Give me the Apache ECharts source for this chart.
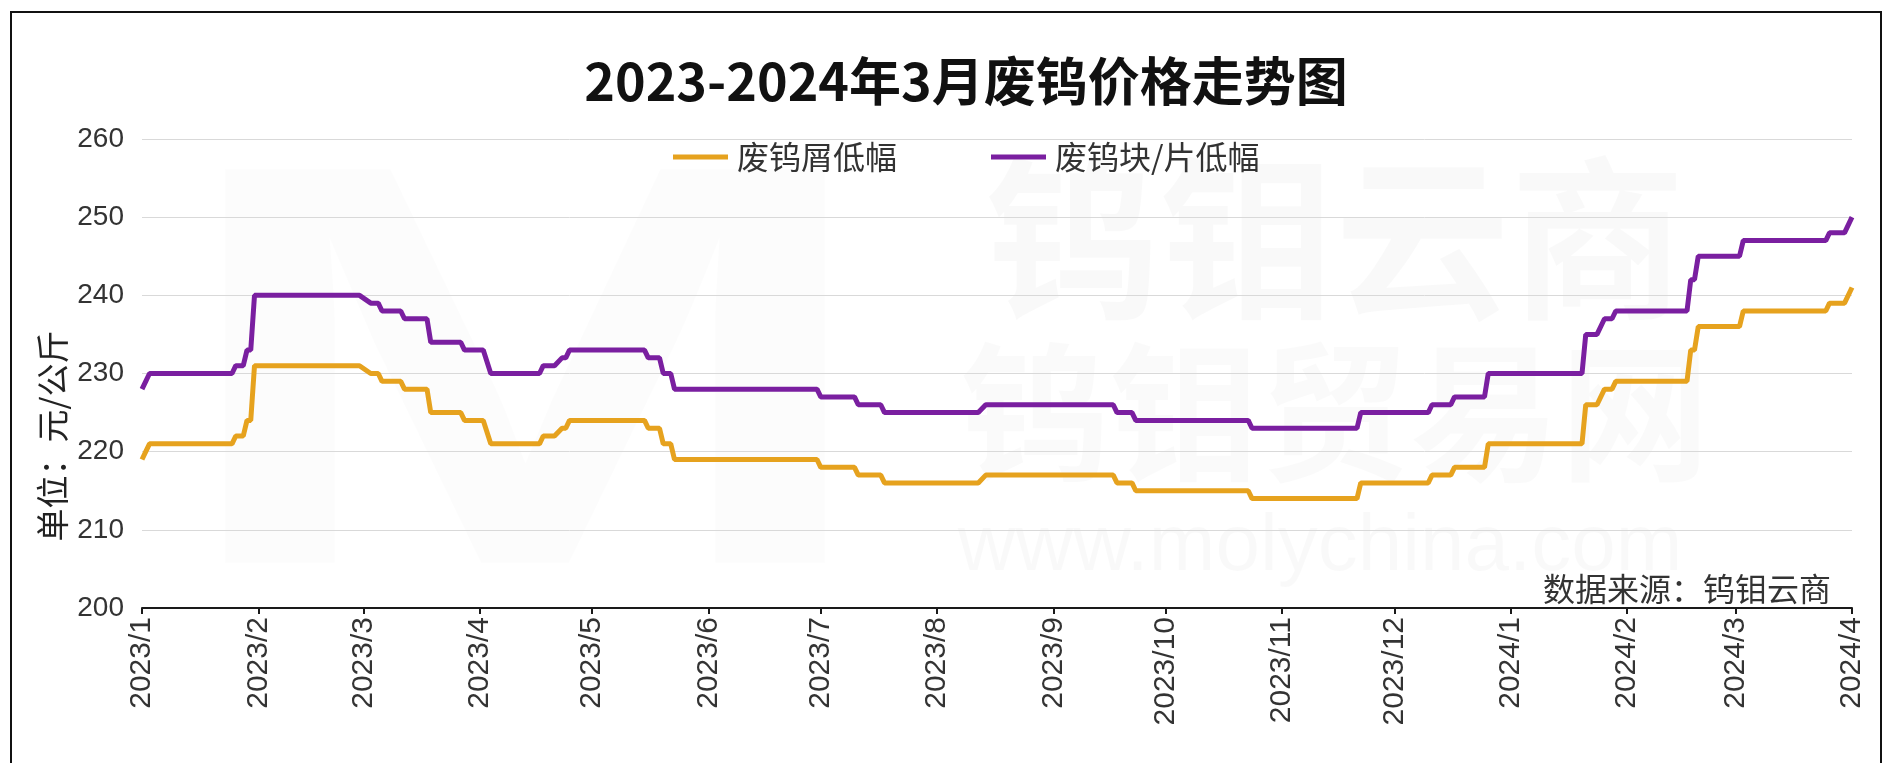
<!DOCTYPE html>
<html>
<head>
<meta charset="utf-8">
<script src="https://cdn.jsdelivr.net/npm/echarts@6/dist/echarts.min.js"></script>
<style>
html,body{margin:0;padding:0;background:#ffffff;}
#chart{width:1891px;height:763px;}
</style>
</head>
<body>
<div id="chart"></div>
<script>
// ---- data ----
const titleText = '2023-2024年3月废钨价格走势图';
const seriesNames = ['废钨屑低幅', '废钨块/片低幅'];
const unitText = '单位：元/公斤';
const sourceText = '数据来源：钨钼云商';

// change points of the price steps
const dates = [
  '2023-01-01','2023-01-02','2023-01-03','2023-01-25','2023-01-26','2023-01-28','2023-01-29','2023-01-30',
  '2023-01-31','2023-02-28','2023-03-03','2023-03-05','2023-03-06','2023-03-11','2023-03-12','2023-03-18',
  '2023-03-19','2023-03-27','2023-03-28','2023-04-02','2023-04-04','2023-04-17','2023-04-18','2023-04-21',
  '2023-04-23','2023-04-24','2023-04-25','2023-05-15','2023-05-16','2023-05-19','2023-05-20','2023-05-22',
  '2023-05-23','2023-06-30','2023-07-01','2023-07-10','2023-07-11','2023-07-17','2023-07-18','2023-08-12',
  '2023-08-14','2023-09-17','2023-09-18','2023-09-22','2023-09-23','2023-10-23','2023-10-24','2023-11-21',
  '2023-11-22','2023-12-10','2023-12-11','2023-12-16','2023-12-17','2023-12-25','2023-12-26','2024-01-20',
  '2024-01-21','2024-01-24','2024-01-26','2024-01-28','2024-01-29','2024-02-17','2024-02-18','2024-02-19',
  '2024-02-20','2024-03-02','2024-03-03','2024-03-25','2024-03-26','2024-03-30','2024-04-01'
];
// 废钨屑低幅
const scrapLow = [
  219,220,221,221,222,222,224,224,
  231,231,230,230,229,229,228,228,
  225,225,224,224,221,221,222,222,
  223,223,224,224,223,223,221,221,
  219,219,218,218,217,217,216,216,
  217,217,216,216,215,215,214,214,
  216,216,217,217,218,218,221,221,
  226,226,228,228,229,229,233,233,
  236,236,238,238,239,239,241
];
// 废钨块/片低幅
const blockLow = [
  228,229,230,230,231,231,233,233,
  240,240,239,239,238,238,237,237,
  234,234,233,233,230,230,231,231,
  232,232,233,233,232,232,230,230,
  228,228,227,227,226,226,225,225,
  226,226,225,225,224,224,223,223,
  225,225,226,226,227,227,230,230,
  235,235,237,237,238,238,242,242,
  245,245,247,247,248,248,250
];
const xMin = '2023-01-01';
const xMax = '2024-04-01';
const yMin = 200, yMax = 260, yStep = 10;

// ---- chart ----
const CJK = '"Noto Sans CJK SC", "Noto Sans", sans-serif';
const LAT = '"Liberation Sans", Arial, sans-serif';
const colors = ['#E6A21E', '#7A1FA0'];

const chart = echarts.init(document.getElementById('chart'), null, {renderer: 'canvas'});
const pair = (vals) => dates.map((d, i) => [d, vals[i]]);

chart.setOption({
  backgroundColor: '#ffffff',
  animation: false,
  color: colors,
  grid: {left: 142, right: 39, top: 139, bottom: 155, containLabel: false},
  legend: {
    left: 668, top: 136,
    icon: 'rect', itemWidth: 55, itemHeight: 5, itemGap: 94,
    textStyle: {fontFamily: CJK, fontSize: 32, color: '#333', padding: [0, 0, 0, 4]},
    data: seriesNames
  },
  xAxis: {
    type: 'time',
    min: xMin, max: xMax,
    splitNumber: 15,
    minInterval: 28 * 86400000,
    maxInterval: 31 * 86400000,
    axisLine: {show: true, lineStyle: {color: '#1a1a1a', width: 2}},
    axisTick: {show: true, length: 6, lineStyle: {color: '#1a1a1a', width: 2}},
    splitLine: {show: false},
    axisLabel: {
      rotate: 90, margin: 9, fontFamily: LAT, fontSize: 30, color: '#333',
      showMinLabel: true, showMaxLabel: true, hideOverlap: false,
      formatter: function (v) { const d = new Date(v); return d.getFullYear() + '/' + (d.getMonth() + 1); }
    }
  },
  yAxis: {
    type: 'value', min: yMin, max: yMax, interval: yStep,
    axisLine: {show: false}, axisTick: {show: false},
    splitLine: {show: true, lineStyle: {color: '#d9d9d9', width: 1}},
    axisLabel: {fontFamily: LAT, fontSize: 28, color: '#333', margin: 18}
  },
  series: [
    {name: seriesNames[0], type: 'line', data: pair(scrapLow), showSymbol: false, symbol: 'none',
     lineStyle: {width: 5, color: colors[0]}, z: 3},
    {name: seriesNames[1], type: 'line', data: pair(blockLow), showSymbol: false, symbol: 'none',
     lineStyle: {width: 5, color: colors[1]}, z: 3}
  ],
  graphic: [
    {type: 'rect', z: 0, silent: true,
     shape: {x: 11, y: 12, width: 1870, height: 800},
     style: {fill: 'none', stroke: '#111', lineWidth: 2}},
    // faint watermark
    {type: 'text', z: 0, silent: true, x: 525, y: 405, scaleX: 1.65, scaleY: 1.1,
     style: {text: 'M', font: 'bold 520px ' + LAT, fill: 'rgba(0,0,0,0.013)', textAlign: 'center', textVerticalAlign: 'middle'}},
    {type: 'text', z: 0, silent: true, x: 1335, y: 238,
     style: {text: '钨钼云商', font: 'bold 175px ' + CJK, fill: 'rgba(0,0,0,0.022)', textAlign: 'center', textVerticalAlign: 'middle'}},
    {type: 'text', z: 0, silent: true, x: 1335, y: 412,
     style: {text: '钨钼贸易网', font: 'bold 150px ' + CJK, fill: 'rgba(0,0,0,0.02)', textAlign: 'center', textVerticalAlign: 'middle'}},
    {type: 'text', z: 0, silent: true, x: 1320, y: 548,
     style: {text: 'www.molychina.com', font: '80px ' + LAT, fill: 'rgba(0,0,0,0.022)', textAlign: 'center', textVerticalAlign: 'middle'}},
    // title
    {type: 'text', z: 10, x: 966, y: 81,
     style: {text: titleText, font: 'bold 52px ' + CJK, fill: '#111', textAlign: 'center', textVerticalAlign: 'middle'}},
    // unit (y axis name)
    {type: 'text', z: 10, x: 52, y: 436, rotation: Math.PI / 2,
     style: {text: unitText, font: '33px ' + CJK, fill: '#222', textAlign: 'center', textVerticalAlign: 'middle'}},
    // source
    {type: 'text', z: 10, x: 1831, y: 589,
     style: {text: sourceText, font: '32px ' + CJK, fill: '#333', textAlign: 'right', textVerticalAlign: 'middle'}}
  ]
});
</script>
</body>
</html>
